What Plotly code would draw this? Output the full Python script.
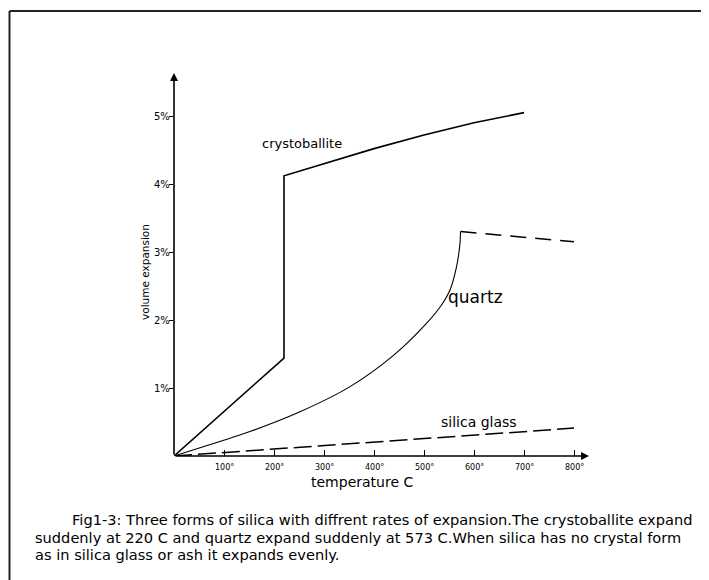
import plotly.graph_objects as go

# ---- data ----
cryst_T = [0, 220, 220, 300, 400, 500, 600, 700]
cryst_V = [0, 1.44, 4.12, 4.30, 4.52, 4.72, 4.90, 5.05]

quartz_T = [0, 52, 152, 252, 352, 439, 505, 535, 552, 565, 572, 573]
quartz_V = [0, 0.12, 0.36, 0.65, 1.02, 1.48, 1.95, 2.22, 2.44, 2.78, 3.13, 3.30]

quartz_hi_T = [573, 800]
quartz_hi_V = [3.30, 3.15]

glass_T = [0, 100, 200, 300, 400, 500, 600, 700, 800]
glass_V = [0, 0.05, 0.10, 0.16, 0.21, 0.26, 0.31, 0.36, 0.41]

x_ticks = [100, 200, 300, 400, 500, 600, 700, 800]
x_ticktext = ["100°", "200°", "300°", "400°", "500°", "600°", "700°", "800°"]
y_ticks = [1, 2, 3, 4, 5]
y_ticktext = ["1%", "2%", "3%", "4%", "5%"]

caption = [
    "Fig1-3: Three forms of silica with diffrent rates of expansion.The crystoballite expand",
    "suddenly at 220 C and quartz expand suddenly at 573 C.When silica has no crystal form",
    "as in silica glass or ash it expands evenly.",
]

FONT = "DejaVu Sans"

# page has an 8px body margin; all pixel targets below are window coords
OFF = 8
W, H = 709, 580
X0, Y0 = 174, 456          # window px of origin
PX_PER_X = 50 / 100.0      # px per degree
PX_PER_Y = 68.0            # px per percent
XMAX = 830
YMAX = (Y0 - 73) / PX_PER_Y
L = X0 - OFF
T = 73 - OFF
pw = XMAX * PX_PER_X
ph = Y0 - 73
R = W - L - pw
B = H - T - ph


def px2paper(px, py):
    return (px - X0) / pw, (Y0 - py) / ph


fig = go.Figure()
fig.add_trace(go.Scatter(x=cryst_T, y=cryst_V, mode="lines",
                         line=dict(color="black", width=1.6), showlegend=False))
fig.add_trace(go.Scatter(x=quartz_T, y=quartz_V, mode="lines", line_shape="spline",
                         line=dict(color="black", width=1.1, smoothing=0.8), showlegend=False))
fig.add_trace(go.Scatter(x=quartz_hi_T, y=quartz_hi_V, mode="lines",
                         line=dict(color="black", width=1.5, dash="16px,9px"), showlegend=False))
fig.add_trace(go.Scatter(x=glass_T, y=glass_V, mode="lines",
                         line=dict(color="black", width=1.5, dash="18px,6px"), showlegend=False))

ann = []
# axis arrows
ann.append(dict(x=XMAX, y=0, ax=0, ay=0, xref="x", yref="y", axref="x", ayref="y",
                text="", showarrow=True, arrowhead=2, arrowsize=1, arrowwidth=1.6,
                arrowcolor="black"))
ann.append(dict(x=0, y=YMAX, ax=0, ay=0, xref="x", yref="y", axref="x", ayref="y",
                text="", showarrow=True, arrowhead=2, arrowsize=1, arrowwidth=1.6,
                arrowcolor="black"))
# curve labels
ann.append(dict(x=256, y=4.60, text="crystoballite", showarrow=False,
                font=dict(family=FONT, size=13, color="black")))
ann.append(dict(x=602, y=2.34, text="quartz", showarrow=False,
                font=dict(family=FONT, size=17, color="black")))
ann.append(dict(x=610, y=0.50, text="silica glass", showarrow=False,
                font=dict(family=FONT, size=14, color="black")))
# x tick labels
for v, t in zip(x_ticks, x_ticktext):
    ann.append(dict(x=v, y=0, yshift=-11, text=t, showarrow=False,
                    font=dict(family=FONT, size=8, color="black")))
# y tick labels
for v, t in zip(y_ticks, y_ticktext):
    ann.append(dict(x=0, y=v, xshift=-12, text=t, showarrow=False,
                    font=dict(family=FONT, size=10, color="black")))
# y title
px, py = px2paper(137, 272)
ann.append(dict(x=px, y=py, xref="paper", yref="paper", text="volume expansion",
                textangle=-90, showarrow=False,
                font=dict(family=FONT, size=10.5, color="black")))
# x title
px, py = px2paper(362, 492)
ann.append(dict(x=px, y=py, xref="paper", yref="paper", text="temperature C",
                showarrow=False, font=dict(family=FONT, size=14, color="black")))
# caption
for (cx, cy), line in zip([(70, 519), (33, 537), (33, 554)], caption):
    px, py = px2paper(cx, cy)
    ann.append(dict(x=px, y=py, xref="paper", yref="paper", text=line,
                    xanchor="left", yanchor="middle", showarrow=False,
                    font=dict(family=FONT, size=14.6, color="black")))

# frame (left and top edges visible); left edge kept just inside the figure
fx, fy = px2paper(OFF + 1.5, 11)
_, fyb = px2paper(OFF + 1.5, 600)
fxr, _ = px2paper(720, 11)
shapes = [
    dict(type="line", xref="paper", yref="paper", x0=fx, y0=fy, x1=fx, y1=fyb,
         line=dict(color="#222", width=2)),
    dict(type="line", xref="paper", yref="paper", x0=fx, y0=fy, x1=fxr, y1=fy,
         line=dict(color="#222", width=2)),
]

fig.update_layout(
    width=W, height=H,
    margin=dict(l=L, r=R, t=T, b=B),
    paper_bgcolor="white", plot_bgcolor="white",
    annotations=ann, shapes=shapes,
    xaxis=dict(range=[0, XMAX], showgrid=False, zeroline=False, showline=False,
               tickvals=x_ticks, ticks="inside", ticklen=6, tickcolor="black",
               showticklabels=False, fixedrange=True),
    yaxis=dict(range=[0, YMAX], showgrid=False, zeroline=False, showline=False,
               tickvals=y_ticks, ticks="outside", ticklen=4, tickcolor="black",
               showticklabels=False, fixedrange=True),
)

fig.write_html("out.html")
